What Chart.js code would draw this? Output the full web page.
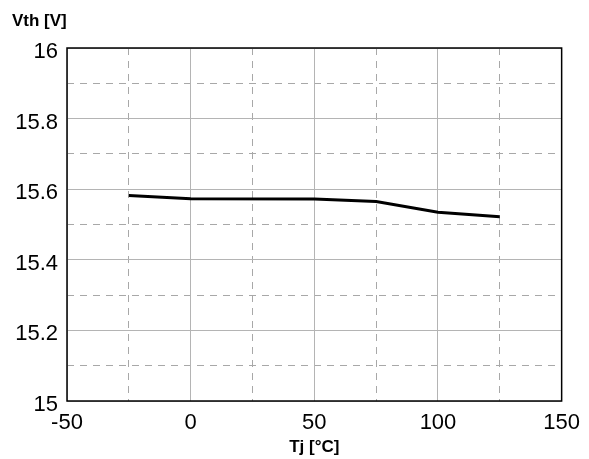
<!DOCTYPE html>
<html>
<head>
<meta charset="utf-8">
<script src="https://cdn.jsdelivr.net/npm/chart.js@4"></script>
<style>
  html, body { margin: 0; padding: 0; background: #fff; }
  #wrap { width: 589px; height: 459px; }
</style>
</head>
<body>
<div id="wrap"><canvas id="chart" width="589" height="459"></canvas></div>
<script>
// Vth vs Tj
const tempC = [-25, 0, 50, 75, 100, 125];
const vth = [15.582, 15.573, 15.572, 15.565, 15.535, 15.522];
const xMinorTicks = [-25, 25, 75, 125];
const yMinorTicks = [15.1, 15.3, 15.5, 15.7, 15.9];

const FONT = "'Liberation Sans', Arial, sans-serif";
const GRID = '#b4b4b4';
const DASH = '#a8a8a8';

// black frame + y-axis title
const framePlugin = {
  id: 'frame',
  afterDraw(chart) {
    const { ctx, chartArea: a } = chart;
    ctx.save();
    ctx.strokeStyle = '#000';
    ctx.lineWidth = 1.5;
    ctx.strokeRect(a.left, a.top, a.right - a.left, a.bottom - a.top);
    ctx.fillStyle = '#000';
    ctx.font = 'bold 17px ' + FONT;
    ctx.textBaseline = 'middle';
    ctx.fillText('Vth [V]', 12, 21);
    ctx.restore();
  }
};

const minorAxis = (pos, ticks, min, max) => ({
  type: 'linear', position: pos, min, max,
  afterBuildTicks: s => { s.ticks = ticks.map(v => ({ value: v })); },
  afterFit: s => { if (pos === 'bottom') s.height = 0; else s.width = 0; },
  grid: { color: DASH, lineWidth: 1, drawTicks: false },
  border: { display: false, dash: [7, 6] },
  ticks: { display: false }
});

new Chart(document.getElementById('chart'), {
  type: 'line',
  data: {
    datasets: [{
      data: tempC.map((t, i) => ({ x: t, y: vth[i] })),
      borderColor: '#000',
      borderWidth: 3,
      pointRadius: 0,
      tension: 0,
      xAxisID: 'x',
      yAxisID: 'y'
    }]
  },
  options: {
    responsive: false,
    animation: false,
    layout: { padding: { left: 0, right: 23, top: 48, bottom: 0 } },
    plugins: { legend: { display: false }, tooltip: { enabled: false } },
    scales: {
      xm: minorAxis('bottom', xMinorTicks, -50, 150),
      ym: minorAxis('left', yMinorTicks, 15, 16),
      x: {
        type: 'linear', position: 'bottom', min: -50, max: 150,
        afterFit: s => { s.height = 58; },
        grid: { color: GRID, lineWidth: 1, drawTicks: false },
        border: { display: false },
        ticks: { stepSize: 50, padding: 9, color: '#000', font: { family: FONT, size: 22 } },
        title: { display: true, text: 'Tj [°C]', color: '#000', padding: { top: 0, bottom: 1 }, font: { family: FONT, size: 17, weight: 'bold' } }
      },
      y: {
        type: 'linear', position: 'left', min: 15, max: 16,
        afterFit: s => { s.width = 67; },
        grid: { color: GRID, lineWidth: 1, drawTicks: false },
        border: { display: false },
        ticks: {
          stepSize: 0.2, padding: 9, labelOffset: 4, color: '#000', font: { family: FONT, size: 22 },
          callback: v => String(Math.round(v * 10) / 10)
        }
      }
    }
  },
  plugins: [framePlugin]
});
</script>
</body>
</html>
